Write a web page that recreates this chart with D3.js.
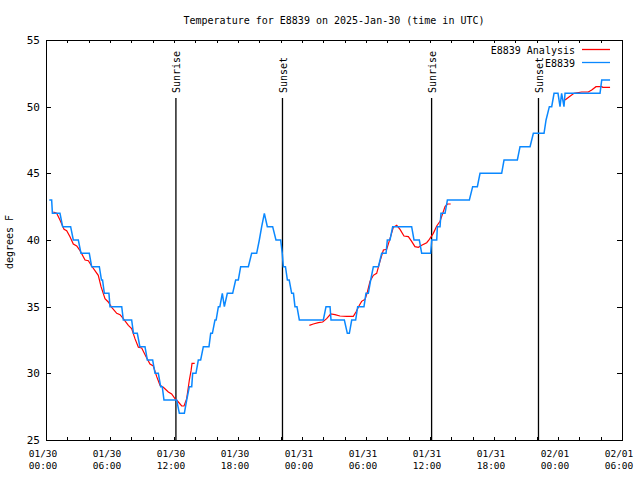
<!DOCTYPE html>
<html><head><meta charset="utf-8">
<script src="https://cdn.jsdelivr.net/npm/d3@7"></script>
<style>body{margin:0;background:#fff}svg{display:block}</style>
</head><body><svg id="c" width="640" height="480"></svg>
<script>
// ---- data (hours since 2025-01-30 00:00 UTC) ----
const obsHours = [0.31,0.53,0.6,1.31,1.56,2.31,2.56,3.03,3.28,4.06,4.28,5.0,5.2,5.3,5.47,5.9,6.0,7.1,7.25,8.03,8.2,8.56,8.8,9.28,9.5,10.0,10.22,10.53,10.75,10.9,11.06,12.25,12.5,12.97,13.19,13.44,13.66,13.75,14.06,14.28,14.5,14.75,15.28,15.44,15.6,15.84,15.95,16.16,16.3,16.53,16.72,17.0,17.5,17.78,18.03,18.25,18.97,19.28,19.75,20.0,20.22,20.47,20.75,21.25,21.56,22.0,22.15,22.25,22.45,22.63,22.8,23.03,23.2,23.34,23.53,23.75,26.0,26.25,26.63,26.72,27.97,28.25,28.44,28.66,29.03,29.22,29.81,30.0,30.22,30.44,30.69,31.16,31.47,31.88,32.0,32.25,32.5,34.28,34.5,35.0,35.22,36.06,36.16,36.63,36.69,36.94,37.03,37.41,37.63,39.69,40.0,40.44,40.69,42.72,42.94,44.19,44.44,45.38,45.69,46.69,46.88,47.19,47.41,47.63,48.0,48.19,48.34,48.56,48.66,51.94,52.1,52.88];
const obsTemps = [43,43,42,42,41,41,40,40,39,39,38,38,37,37,36,36,35,35,34,34,33,33,32,32,31,31,30,30,29,29,28,28,27,27,28,29,29,30,30,31,31,32,32,33,33,34,34,35,35,36,35,36,36,37,37,38,38,39,39,40,41,42,41,41,40,40,39,38,38,37,37,36,36,35,35,34,34,35,35,34,34,33,33,34,34,35,35,36,36,37,38,38,39,39,40,40,41,41,40,40,39,39,40,40,41,41,42,42,43,43,44,44,45,45,46,46,47,47,48,48,49,50,50,51,51,50,51,50,51,51,52,52];
const anaHours = [0.69,1.0,1.31,1.69,1.94,2.25,2.56,2.88,3.19,3.66,3.97,4.28,4.59,4.9,5.16,5.53,5.84,6.16,6.63,6.94,7.25,7.72,8.03,8.34,8.66,8.97,9.38,9.75,10.06,10.38,10.69,11.0,11.47,11.78,12.09,12.41,12.72,12.94,13.19,13.44,13.6,13.69,13.94,
  null,
  24.69,25.06,25.53,25.94,26.31,26.69,27.09,27.56,28.19,28.81,29.06,29.34,29.59,29.91,30.13,30.38,30.69,31.0,31.31,31.63,31.94,32.25,32.56,32.88,33.19,33.56,33.97,34.28,34.59,34.91,35.22,35.69,35.94,36.31,36.63,36.94,37.41,37.63,37.94,
  null,
  48.66,49.06,49.5,50.22,50.84,51.16,51.56,52.1,52.2,52.88];
const anaTemps = [42.1,42.0,41.5,40.8,40.7,40.25,39.7,39.55,39.2,38.5,38.45,38.05,37.7,37.35,36.5,35.6,35.35,34.95,34.5,34.4,34.1,33.6,33.35,32.6,31.95,31.9,31.25,30.7,30.55,29.75,29.1,28.95,28.6,28.45,28.1,27.85,27.55,27.55,28.1,29.5,30.2,30.75,30.75,
  null,
  33.6,33.7,33.8,33.85,34.1,34.45,34.4,34.3,34.27,34.27,34.6,35.05,35.4,35.55,36.1,36.9,37.35,37.5,38.4,39.25,39.3,40.1,40.95,41.1,40.8,40.3,40.25,39.9,39.5,39.45,39.6,39.8,40.05,40.5,41.05,41.4,42.5,42.7,42.7,
  null,
  50.5,50.75,51.0,51.1,51.1,51.25,51.5,51.5,51.45,51.45];
const sunHours = [12.18, 22.17, 36.15, 46.17];
const sunLabels = ["Sunrise", "Sunset", "Sunrise", "Sunset"];
const yTicks = [25,30,35,40,45,50,55];
const seriesNames = ["E8839 Analysis", "E8839"];
const seriesColors = ["#ff0000", "#0a88ff"];
const titleText = "Temperature for E8839 on 2025-Jan-30 (time in UTC)";
const yLabel = "degrees F";

// ---- layout ----
const L = 46, R = 622, T = 40, B = 440;
const base = Date.UTC(2025, 0, 30, 0, 0);
const toDate = h => new Date(base + h * 3600000);
const x = d3.scaleUtc().domain([toDate(0), toDate(54)]).range([L, R]);
const y = d3.scaleLinear().domain([25, 55]).range([B, T]);
const svg = d3.select("#c");
const mono = "'DejaVu Sans Mono', 'Liberation Mono', monospace";

// title
svg.append("text").attr("x", 334).attr("y", 24).attr("text-anchor", "middle")
  .style("font-family", mono).style("font-size", "10px").text(titleText);

// y label
svg.append("text").attr("transform", "translate(13,242) rotate(-90)").attr("text-anchor", "middle")
  .style("font-family", mono).style("font-size", "10px").text(yLabel);

// ticks
const g = svg.append("g").attr("shape-rendering", "crispEdges");
const xt = d3.utcHour.every(2).range(toDate(0), toDate(54.01));
xt.forEach(d => {
  const px = Math.round(x(d)) + 0.5;
  g.append("line").attr("x1", px).attr("x2", px).attr("y1", B).attr("y2", B - 3).attr("stroke", "#000");
  g.append("line").attr("x1", px).attr("x2", px).attr("y1", T).attr("y2", T + 3).attr("stroke", "#000");
});
const fmtD = d3.utcFormat("%m/%d"), fmtH = d3.utcFormat("%H:%M");
d3.utcHour.every(6).range(toDate(0), toDate(54.01)).forEach(d => {
  const px = x(d) - 3;
  const t = svg.append("text").attr("text-anchor", "middle").style("font-family", mono).style("font-size", "9.5px");
  t.append("tspan").attr("x", px).attr("y", 457).text(fmtD(d));
  t.append("tspan").attr("x", px).attr("y", 469).text(fmtH(d));
});
yTicks.forEach(v => {
  const py = Math.round(y(v)) + 0.5;
  g.append("line").attr("x1", L).attr("x2", L + 5).attr("y1", py).attr("y2", py).attr("stroke", "#000");
  g.append("line").attr("x1", R - 5).attr("x2", R).attr("y1", py).attr("y2", py).attr("stroke", "#000");
  svg.append("text").attr("x", 40).attr("y", y(v) + 4).attr("text-anchor", "end")
    .style("font-family", mono).style("font-size", "11px").text(v);
});

// sun lines
sunHours.forEach((h, i) => {
  const px = x(toDate(h));
  svg.append("line").attr("x1", px).attr("x2", px).attr("y1", B).attr("y2", 98)
    .attr("stroke", "#000").attr("stroke-width", 1.3);
  svg.append("text").attr("transform", `translate(${px + 1},93) rotate(-90)`)
    .attr("dominant-baseline", "central")
    .style("font-family", mono).style("font-size", "10px").text(sunLabels[i]);
});

// series
const anaData = anaHours.map((h, i) => ({h, v: anaTemps[i]}));
const obsData = obsHours.map((h, i) => ({h, v: obsTemps[i]}));
const line = d3.line().defined(d => d.h != null).x(d => x(toDate(d.h))).y(d => y(d.v));
svg.append("path").datum(anaData).attr("d", line).attr("fill", "none")
  .attr("stroke", seriesColors[0]).attr("stroke-width", 1.2);
svg.append("path").datum(obsData).attr("d", line).attr("fill", "none")
  .attr("stroke", seriesColors[1]).attr("stroke-width", 1.5);

// legend
seriesNames.forEach((n, i) => {
  const ly = 49.5 + i * 13;
  svg.append("text").attr("x", 575).attr("y", ly + 4).attr("text-anchor", "end")
    .style("font-family", mono).style("font-size", "10px").text(n);
  svg.append("line").attr("x1", 582).attr("x2", 610).attr("y1", ly).attr("y2", ly)
    .attr("stroke", seriesColors[i]).attr("stroke-width", 1.3);
});

// border
svg.append("rect").attr("x", L + 0.5).attr("y", T + 0.5).attr("width", R - L).attr("height", B - T)
  .attr("fill", "none").attr("stroke", "#000").attr("shape-rendering", "crispEdges");
</script></body></html>
